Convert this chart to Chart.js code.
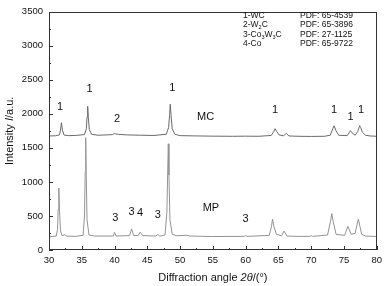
<!DOCTYPE html>
<html>
<head>
<meta charset="utf-8">
<script src="https://cdn.jsdelivr.net/npm/chart.js@4.4.1/dist/chart.umd.min.js"></script>
<style>
  html, body { margin: 0; padding: 0; background: #fff; }
  #c { display: block; }
</style>
</head>
<body>
<canvas id="c" width="387" height="286"></canvas>
<script>
// MC pattern (upper curve)
const mcAngle = [30, 31.0, 31.6, 31.75, 31.9, 32.05, 32.3, 33, 34, 35.4, 35.7, 35.8, 35.9, 36.0, 36.15, 36.5, 37.5, 39.7, 40.0, 40.2, 40.6, 42, 44, 46, 47.9, 48.25, 48.4, 48.5, 48.62, 48.8, 49.2, 50, 52, 55, 58, 60, 62, 63.9, 64.3, 64.5, 64.75, 65.1, 65.8, 66.2, 66.6, 68, 70, 72, 72.9, 73.3, 73.5, 73.75, 74.2, 75.5, 75.85, 76.0, 76.25, 76.7, 77.1, 77.4, 77.55, 77.8, 78.3, 79, 80];
const mcIntensity = [1675, 1678, 1690, 1760, 1870, 1760, 1688, 1680, 1682, 1695, 1780, 1950, 2110, 1950, 1770, 1700, 1685, 1695, 1712, 1705, 1698, 1690, 1686, 1682, 1700, 1800, 1990, 2140, 1980, 1780, 1700, 1680, 1676, 1672, 1670, 1672, 1670, 1682, 1740, 1782, 1740, 1690, 1678, 1714, 1675, 1670, 1668, 1670, 1685, 1780, 1825, 1760, 1685, 1680, 1730, 1752, 1720, 1685, 1740, 1825, 1800, 1730, 1685, 1675, 1670];

// MP pattern (lower curve)
const mpAngle = [30, 31.1, 31.3, 31.4, 31.5, 31.6, 31.75, 32.0, 32.4, 32.7, 34, 35.2, 35.42, 35.52, 35.6, 35.68, 35.8, 36.1, 37, 39.8, 40.0, 40.25, 42.3, 42.6, 42.9, 43.6, 43.9, 44.3, 46.3, 46.6, 46.9, 47.7, 47.98, 48.1, 48.2, 48.3, 48.45, 48.8, 49.5, 51.0, 51.5, 55, 59.8, 60.0, 60.2, 63.6, 63.95, 64.1, 64.3, 64.7, 65.5, 65.85, 66.3, 68, 69.8, 70.0, 70.2, 72.5, 72.95, 73.15, 73.35, 73.8, 75.1, 75.6, 76.1, 76.7, 77.2, 77.7, 78.3, 80];
const mpIntensity = [195, 205, 300, 600, 910, 600, 280, 210, 225, 205, 200, 215, 500, 1150, 1650, 1150, 450, 220, 205, 205, 258, 205, 212, 310, 215, 212, 262, 212, 205, 228, 203, 220, 550, 1100, 1560, 1100, 450, 230, 210, 216, 205, 198, 200, 215, 200, 215, 350, 455, 350, 230, 210, 278, 205, 200, 200, 212, 200, 220, 420, 535, 420, 230, 215, 348, 230, 245, 455, 230, 205, 198];

// peak markers: [angle, intensity, text]
const peakLabels = [
  [31.7, 2100, '1'], [36.2, 2370, '1'], [40.4, 1930, '2'], [48.8, 2380, '1'],
  [64.5, 2050, '1'], [73.5, 2060, '1'], [76.0, 1950, '1'], [77.6, 2060, '1'],
  [40.1, 475, '3'], [42.6, 555, '3'], [43.9, 548, '4'], [46.6, 515, '3'], [60.0, 455, '3']
];
const curveNames = [[53.9, 1950, 'MC'], [54.7, 620, 'MP']];

// phase key, parts: [text, isSubscript]
const phaseKey = [
  [['1-WC', false]],
  [['2-W', false], ['2', true], ['C', false]],
  [['3-Co', false], ['3', true], ['W', false], ['3', true], ['C', false]],
  [['4-Co', false]]
];
const pdfCards = ['PDF: 65-4539', 'PDF: 65-3896', 'PDF: 27-1125', 'PDF: 65-9722'];

const xTicks = [30, 35, 40, 45, 50, 55, 60, 65, 70, 75, 80];
const yTicks = [0, 500, 1000, 1500, 2000, 2500, 3000, 3500];

const FONT = '"Liberation Sans", Arial, sans-serif';

const toPoints = (xs, ys) => xs.map((v, i) => ({ x: v, y: ys[i] }));

// draws a run of [text, fontStyle] parts starting at x
function richText(ctx, parts, x, y, size) {
  parts.forEach(([t, s]) => {
    ctx.font = s + size + 'px ' + FONT;
    ctx.fillText(t, x, y);
    x += ctx.measureText(t).width;
  });
}
function richWidth(ctx, parts, size) {
  return parts.reduce((w, [t, s]) => {
    ctx.font = s + size + 'px ' + FONT;
    return w + ctx.measureText(t).width;
  }, 0);
}

// draws frame, inward ticks, labels, key and axis titles
const decor = {
  id: 'decor',
  afterDraw(chart) {
    const { ctx, chartArea: a, scales: { x, y } } = chart;
    ctx.save();
    ctx.strokeStyle = '#333';
    ctx.lineWidth = 1;
    ctx.strokeRect(Math.round(a.left) + 0.5, Math.round(a.top) + 0.5,
      Math.round(a.right - a.left) - 1, Math.round(a.bottom - a.top) - 1);

    ctx.beginPath();
    for (let v = 30; v <= 80; v += 2.5) {
      const px = Math.round(x.getPixelForValue(v)) + 0.5;
      const len = v % 5 === 0 ? 4 : 2;
      ctx.moveTo(px, a.bottom);
      ctx.lineTo(px, a.bottom - len);
    }
    for (let v = 0; v <= 3500; v += 250) {
      const py = Math.round(y.getPixelForValue(v)) + 0.5;
      const len = v % 500 === 0 ? 4 : 2;
      ctx.moveTo(a.left, py);
      ctx.lineTo(a.left + len, py);
    }
    ctx.stroke();

    ctx.fillStyle = '#111';
    ctx.textAlign = 'center';
    ctx.textBaseline = 'middle';
    ctx.font = '11px ' + FONT;
    peakLabels.concat(curveNames).forEach(([px, py, t]) => {
      ctx.fillText(t, x.getPixelForValue(px), y.getPixelForValue(py));
    });

    // phase key
    ctx.textAlign = 'left';
    ctx.textBaseline = 'alphabetic';
    phaseKey.forEach((parts, i) => {
      let cx = 243;
      const by = 17.5 + i * 9.6;
      parts.forEach(([t, sub]) => {
        ctx.font = (sub ? '5.5px ' : '8.5px ') + FONT;
        ctx.fillText(t, cx, sub ? by + 2 : by);
        cx += ctx.measureText(t).width;
      });
      ctx.font = '8.5px ' + FONT;
      ctx.fillText(pdfCards[i], 300, by);
    });

    // axis titles
    ctx.textBaseline = 'middle';
    const xt = [['Diffraction angle ', ''], ['2\u03b8', 'italic '], ['/(\u00b0)', '']];
    richText(ctx, xt, (a.left + a.right) / 2 - richWidth(ctx, xt, 11) / 2, 278, 11);

    ctx.translate(10, (a.top + a.bottom) / 2);
    ctx.rotate(-Math.PI / 2);
    const yt = [['Intensity ', ''], ['I', 'italic '], ['/a.u.', '']];
    richText(ctx, yt, -richWidth(ctx, yt, 11) / 2, 0, 11);
    ctx.restore();
  }
};

new Chart(document.getElementById('c'), {
  type: 'scatter',
  data: {
    datasets: [
      { label: 'MC', data: toPoints(mcAngle, mcIntensity), borderColor: '#6a6a6a' },
      { label: 'MP', data: toPoints(mpAngle, mpIntensity), borderColor: '#939393' }
    ].map(ds => ({ ...ds, showLine: true, pointRadius: 0, borderWidth: 1, tension: 0 }))
  },
  options: {
    responsive: false,
    animation: false,
    devicePixelRatio: 1,
    layout: { padding: { left: 0, right: 7, top: 5, bottom: 0 } },
    plugins: { legend: { display: false }, tooltip: { enabled: false } },
    scales: {
      x: {
        type: 'linear', min: 30, max: 80,
        afterBuildTicks: s => { s.ticks = xTicks.map(v => ({ value: v })); },
        afterFit: s => { s.height = 36; },
        grid: { display: false, drawTicks: false },
        border: { display: false },
        ticks: { color: '#111', padding: 5, maxRotation: 0, callback: v => String(v), font: { family: FONT, size: 9.5 } }
      },
      y: {
        type: 'linear', min: 0, max: 3500,
        afterBuildTicks: s => { s.ticks = yTicks.map(v => ({ value: v })); },
        afterFit: s => { s.width = 49; },
        grid: { display: false, drawTicks: false },
        border: { display: false },
        ticks: { color: '#111', padding: 6, callback: v => String(v), font: { family: FONT, size: 9.5 } }
      }
    }
  },
  plugins: [decor]
});
</script>
</body>
</html>
